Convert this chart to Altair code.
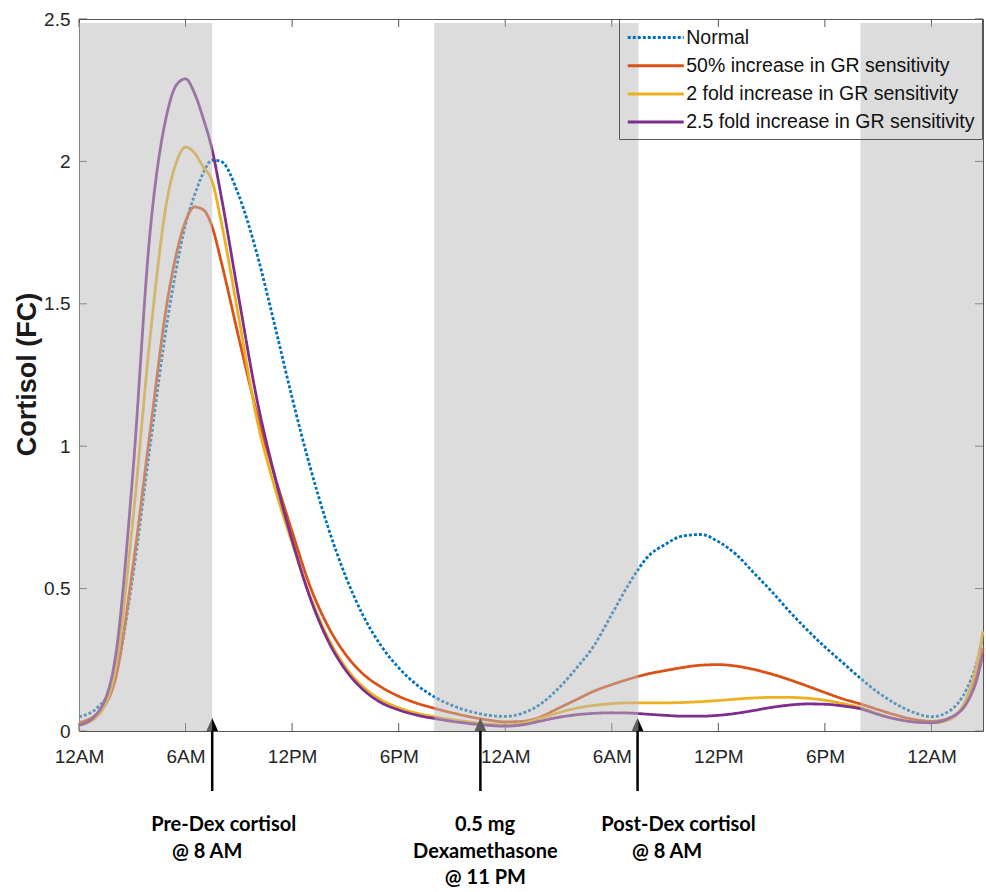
import json
import altair as alt
import pandas as pd

# ---------------- data ----------------
HOURS = [0, 1, 2, 3, 4, 5, 5.5, 6, 6.5, 7, 7.5, 8,
         9, 10, 11, 12, 13, 14, 15, 16, 17, 18, 19, 20, 21, 22, 23, 24,
         25, 26, 27, 28, 29, 30, 31, 32, 33, 34, 35, 36, 37, 38, 39, 40,
         41, 42, 43, 44, 45, 46, 47, 48, 49, 50,
         50.5, 50.9]

NORMAL = [0.05, 0.08, 0.18, 0.53, 1.0, 1.45, 1.63, 1.78, 1.88, 1.96, 2.005, 2.0,
          1.88, 1.68, 1.43, 1.17, 0.93, 0.72, 0.545, 0.405, 0.3, 0.222, 0.163, 0.12, 0.09, 0.069, 0.056, 0.051,
          0.063, 0.095, 0.15, 0.22, 0.30, 0.41, 0.52, 0.61, 0.655, 0.685, 0.69, 0.665, 0.62, 0.555, 0.49, 0.42,
          0.355, 0.295, 0.24, 0.185, 0.135, 0.095, 0.065, 0.05, 0.07, 0.15,
          0.23, 0.33]

GR_50 = [0.03, 0.06, 0.17, 0.56, 1.05, 1.52, 1.68, 1.79, 1.84, 1.83, 1.77, 1.65,
         1.38, 1.12, 0.9, 0.7, 0.51, 0.37, 0.27, 0.2, 0.155, 0.122, 0.098, 0.08, 0.064, 0.05, 0.039, 0.032,
         0.034, 0.05, 0.08, 0.11, 0.14, 0.163, 0.183, 0.2, 0.212, 0.223, 0.231, 0.233, 0.228, 0.216, 0.2, 0.18,
         0.158, 0.135, 0.113, 0.095, 0.075, 0.056, 0.041, 0.034, 0.045, 0.11,
         0.19, 0.29]

GR_2X = [0.02, 0.05, 0.2, 0.72, 1.38, 1.88, 2.0, 2.05, 2.03, 1.98, 1.93, 1.79,
         1.45, 1.1, 0.86, 0.66, 0.475, 0.33, 0.225, 0.155, 0.11, 0.082, 0.063, 0.05, 0.04, 0.032, 0.025, 0.021,
         0.028, 0.045, 0.064, 0.08, 0.09, 0.096, 0.099, 0.099, 0.099, 0.1, 0.103, 0.107, 0.112, 0.116, 0.118, 0.118,
         0.115, 0.108, 0.096, 0.082, 0.06, 0.043, 0.032, 0.029, 0.04, 0.12,
         0.22, 0.35]

GR_25X = [0.02, 0.06, 0.24, 0.88, 1.75, 2.18, 2.27, 2.29, 2.24, 2.15, 2.04, 1.88,
          1.52, 1.17, 0.9, 0.67, 0.47, 0.32, 0.215, 0.145, 0.1, 0.074, 0.056, 0.044, 0.034, 0.026, 0.02, 0.017,
          0.022, 0.035, 0.048, 0.057, 0.062, 0.064, 0.063, 0.059, 0.055, 0.052, 0.052, 0.055, 0.062, 0.072, 0.083, 0.091,
          0.095, 0.094, 0.088, 0.078, 0.058, 0.042, 0.032, 0.029, 0.045, 0.1,
          0.17, 0.27]

SERIES = ["Normal",
          "50% increase in GR sensitivity",
          "2 fold increase in GR sensitivity",
          "2.5 fold increase in GR sensitivity"]
SERIES_VALUES = [NORMAL, GR_50, GR_2X, GR_25X]

NIGHT_START = [0, 20, 44]
NIGHT_END = [7.5, 31.5, 50.9]

X_TICKS = [0, 6, 12, 18, 24, 30, 36, 42, 48]
X_TICK_LABELS = ["12AM", "6AM", "12PM", "6PM", "12AM", "6AM", "12PM", "6PM", "12AM"]
Y_TICKS = [0, 0.5, 1, 1.5, 2, 2.5]

ARROW_HOURS = [7.5, 22.6, 31.45]
ARROW_LINES = [["Pre-Dex cortisol", "@ 8 AM"],
               ["0.5 mg", "Dexamethasone", "@ 11 PM"],
               ["Post-Dex cortisol", "@ 8 AM"]]

# ---------------- styling ----------------
X_END = 50.9
W, H = 904, 712
TICK_LEN = 8
COLORS = ["#0072BD", "#D95319", "#EDB120", "#7E2F8E"]
DASHES = [[3, 2], [1, 0], [1, 0], [1, 0]]
AX_COL = "#555555"
LBL_COL = "#262626"
FONT = "Liberation Sans"
ANNOT_DX = [[11.5, -5], [4.6, 5, 5], [41, 29.5]]
ANNOT_ROW_Y = [806, 833, 859]

rows = []
for name, vals in zip(SERIES, SERIES_VALUES):
    for h, v in zip(HOURS, vals):
        rows.append({"hour": h, "cortisol": v, "series": name})
df = pd.DataFrame(rows)
nights = pd.DataFrame({"start": NIGHT_START, "end": NIGHT_END})
arrows = pd.DataFrame({"hour": ARROW_HOURS})
xt = pd.DataFrame({"t": X_TICKS})
yt = pd.DataFrame({"v": Y_TICKS})

xscale = alt.Scale(domain=[0, X_END], nice=False, zero=False)
yscale = alt.Scale(domain=[0, 2.5], nice=False, zero=False)

label_expr = json.dumps(X_TICK_LABELS) + "[round(datum.value / 6)]"

main_x_axis = alt.Axis(values=X_TICKS, labelExpr=label_expr, ticks=False, tickSize=0,
                       domain=False, grid=False, title=None, labelFontSize=19,
                       labelFont=FONT, labelColor=LBL_COL, labelPadding=16,
                       labelFlush=False, labelOverlap=False)
main_y_axis = alt.Axis(values=Y_TICKS, format="~g", ticks=False, tickSize=0,
                       domain=False, grid=False, title="Cortisol (FC)",
                       titleFontSize=27, titleFont=FONT, titleFontWeight="bold",
                       titleColor="#1a1a1a", titleAngle=270, titleX=-44, titleY=355,
                       titleAlign="center", titleBaseline="alphabetic",
                       labelFontSize=19, labelFont=FONT, labelColor=LBL_COL,
                       labelPadding=9, labelOverlap=False)

legend = alt.Legend(title=None, orient="none", legendX=540, legendY=0,
                    direction="vertical", symbolType="M-2.872,0H2.872", symbolSize=380,
                    symbolOffset=18.25, symbolStrokeWidth=3, labelFontSize=19.5,
                    labelFont=FONT, labelColor="#111111", labelOffset=19, padding=7,
                    rowPadding=7.2, strokeColor=AX_COL, labelLimit=500)

lines = alt.Chart(df).mark_line(strokeWidth=2.8, interpolate="monotone").encode(
    x=alt.X("hour:Q", scale=xscale, axis=main_x_axis),
    y=alt.Y("cortisol:Q", scale=yscale, axis=main_y_axis),
    color=alt.Color("series:N", scale=alt.Scale(domain=SERIES, range=COLORS), legend=legend),
    strokeDash=alt.StrokeDash("series:N", scale=alt.Scale(domain=SERIES, range=DASHES), legend=legend),
)

# inward tick marks on all four sides (MATLAB style box)
xt_bottom = alt.Chart(xt).mark_rule(color=AX_COL, strokeWidth=1).encode(
    x=alt.X("t:Q", scale=xscale, axis=None), y=alt.value(H - TICK_LEN), y2=alt.value(H))
xt_top = alt.Chart(xt).mark_rule(color=AX_COL, strokeWidth=1).encode(
    x=alt.X("t:Q", scale=xscale, axis=None), y=alt.value(0), y2=alt.value(TICK_LEN))
yt_left = alt.Chart(yt).mark_rule(color=AX_COL, strokeWidth=1).encode(
    y=alt.Y("v:Q", scale=yscale, axis=None), x=alt.value(0), x2=alt.value(TICK_LEN))
yt_right = alt.Chart(yt).mark_rule(color=AX_COL, strokeWidth=1).encode(
    y=alt.Y("v:Q", scale=yscale, axis=None), x=alt.value(W - TICK_LEN), x2=alt.value(W))

shafts = alt.Chart(arrows).mark_rule(color="black", strokeWidth=2.5).encode(
    x=alt.X("hour:Q", scale=xscale, axis=None),
    y=alt.value(H),
    y2=alt.value(H + 60),
)
heads = alt.Chart(arrows).mark_point(shape="M0,-1L0.9,1L-0.9,1Z", filled=True, size=169,
                                     color="black", opacity=1).encode(
    x=alt.X("hour:Q", scale=xscale, axis=None),
    y=alt.value(H - 6.5),
)

overlay = alt.Chart(nights).mark_rect(color="#b9b9b9", opacity=0.5).encode(
    x=alt.X("start:Q", scale=xscale, axis=None),
    x2="end:Q",
    y=alt.value(4),
    y2=alt.value(H),
)

texts = []
for h, lines_txt, dxs in zip(ARROW_HOURS, ARROW_LINES, ANNOT_DX):
    for j, (txt, dx) in enumerate(zip(lines_txt, dxs)):
        t = alt.Chart(pd.DataFrame({"hour": [h], "label": [txt]})).mark_text(
            font="Lato", fontWeight="bold", fontSize=20, color="black",
            baseline="middle", align="center", dx=dx,
        ).encode(
            x=alt.X("hour:Q", scale=xscale, axis=None),
            y=alt.value(ANNOT_ROW_Y[j]),
            text="label:N",
        )
        texts.append(t)

chart = alt.layer(lines, xt_bottom, xt_top, yt_left, yt_right, shafts, heads, overlay,
                  *texts).resolve_axis(
    x="independent", y="independent"
).properties(
    width=W, height=H,
    padding={"left": 79, "top": 19, "right": 3, "bottom": 161},
    autosize=alt.AutoSizeParams(type="none"),
    background="white",
).configure_view(stroke=AX_COL, strokeWidth=1)

chart.save("out.html", embed_options={"renderer": "svg", "actions": False})
